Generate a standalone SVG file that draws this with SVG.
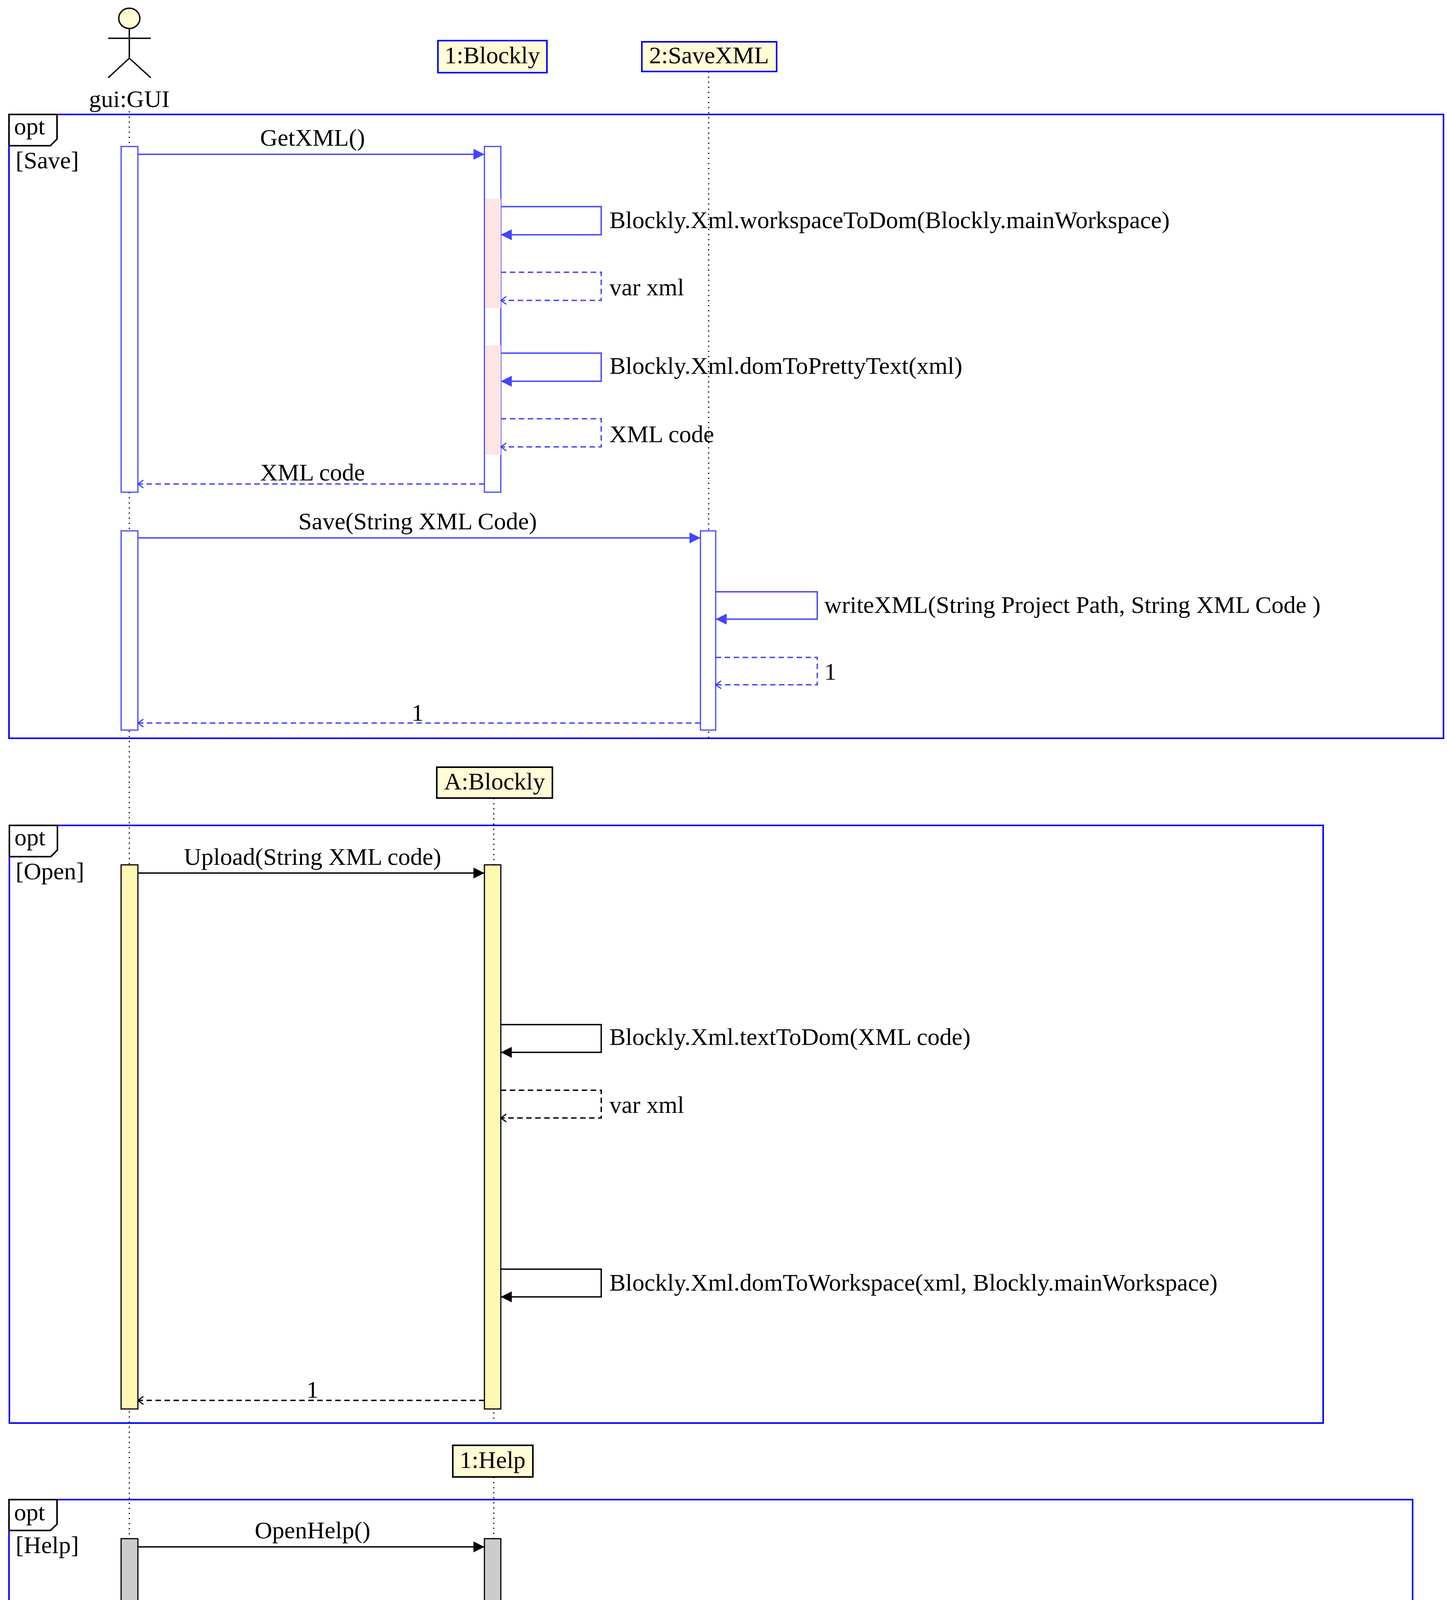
<svg xmlns="http://www.w3.org/2000/svg" width="3704" height="4773" viewBox="0 0 3704 4773">
<style>
text{font-family:"Liberation Serif",serif;font-size:62px;fill:#000}
.frame{fill:none;stroke:#0000ff;stroke-width:4}
.tag{fill:#fff;stroke:#000;stroke-width:4}
.life{stroke:#000;stroke-width:3;stroke-dasharray:3 10}
.obj{fill:#fffcd6;stroke-width:4}
.b{stroke:#4444ff;fill:none;stroke-width:3.5}
.k{stroke:#000;fill:none;stroke-width:3.5}
.d{stroke-dasharray:14 9}
</style>
<defs>
<marker id="fk" markerWidth="28" markerHeight="28" refX="28" refY="14" orient="auto" markerUnits="userSpaceOnUse"><path d="M0,0L28,14L0,28z" fill="#000"/></marker>
<marker id="fb2" markerWidth="28" markerHeight="28" refX="28" refY="14" orient="auto" markerUnits="userSpaceOnUse"><path d="M0,0L28,14L0,28z" fill="#4444ff"/></marker>
<marker id="ob" markerWidth="20" markerHeight="24" refX="18" refY="12" orient="auto" markerUnits="userSpaceOnUse"><path d="M4,2L18,12L4,22" fill="none" stroke="#4444ff" stroke-width="3"/></marker>
<marker id="ok" markerWidth="20" markerHeight="24" refX="18" refY="12" orient="auto" markerUnits="userSpaceOnUse"><path d="M4,2L18,12L4,22" fill="none" stroke="#000" stroke-width="3"/></marker>
</defs>
<rect width="3704" height="4773" fill="#fff"/>

<g id="lifelines">
<line class="life" x1="331" y1="285" x2="331" y2="4725"/>
<line class="life" x1="1814" y1="183" x2="1814" y2="1890"/>
<line class="life" x1="1264" y1="2043" x2="1264" y2="3634"/>
<line class="life" x1="1264" y1="3781" x2="1264" y2="4725"/>
</g>

<g id="actor-gui">
<ellipse cx="331" cy="47" rx="27" ry="26" fill="#fffcd6" stroke="#000" stroke-width="3.5"/>
<path d="M331,73V149M277,98H386M277,199L331,149L386,199" fill="none" stroke="#000" stroke-width="3.5"/>
<text x="331" y="274" text-anchor="middle">gui:GUI</text>
</g>
<g id="obj-blockly1"><rect class="obj" x="1121" y="104" width="279" height="82" stroke="#0000ff"/><text x="1260" y="162" text-anchor="middle">1:Blockly</text></g>
<g id="obj-savexml"><rect class="obj" x="1643" y="107" width="345" height="76" stroke="#0000ff"/><text x="1815" y="162" text-anchor="middle">2:SaveXML</text></g>
<g id="obj-blocklyA"><rect class="obj" x="1118" y="1964" width="296" height="79" stroke="#000"/><text x="1266" y="2021" text-anchor="middle">A:Blockly</text></g>
<g id="obj-help"><rect class="obj" x="1159" y="3700" width="205" height="81" stroke="#000"/><text x="1261" y="3758" text-anchor="middle">1:Help</text></g>

<g id="frame-save">
<rect class="frame" x="23" y="293" width="3672" height="1597"/>
<path class="tag" d="M23,293H146V356L129,373H23Z"/>
<text x="36" y="344">opt</text><text x="40" y="431">[Save]</text>
</g>
<g id="frame-open">
<rect class="frame" x="24" y="2113" width="3363" height="1530"/>
<path class="tag" d="M24,2113H147V2176L130,2193H24Z"/>
<text x="37" y="2164">opt</text><text x="40" y="2251">[Open]</text>
</g>
<g id="frame-help">
<rect class="frame" x="23" y="3839" width="3593" height="901"/>
<path class="tag" d="M23,3839H146V3902L129,3918H23Z"/>
<text x="36" y="3892">opt</text><text x="40" y="3976">[Help]</text>
</g>

<g id="activations">
<rect x="310" y="375" width="43" height="885" fill="#fff" stroke="#4444ff" stroke-width="3"/>
<rect x="1240" y="375" width="42" height="885" fill="#fff" stroke="#4444ff" stroke-width="3"/>
<rect x="1243" y="509" width="39" height="280" fill="#ffe4e6"/>
<rect x="1243" y="884" width="39" height="280" fill="#ffe4e6"/>
<rect x="310" y="1359" width="43" height="510" fill="#fff" stroke="#4444ff" stroke-width="3"/>
<rect x="1793" y="1359" width="39" height="510" fill="#fff" stroke="#4444ff" stroke-width="3"/>
<rect x="310" y="2214" width="43" height="1393" fill="#fff8b4" stroke="#000" stroke-width="3"/>
<rect x="1240" y="2214" width="42" height="1393" fill="#fff8b4" stroke="#000" stroke-width="3"/>
<rect x="310" y="3939" width="43" height="764" fill="#cccccc" stroke="#000" stroke-width="3"/>
<rect x="1240" y="3939" width="42" height="764" fill="#cccccc" stroke="#000" stroke-width="3"/>
</g>

<g id="connectors">
<line class="b" x1="353" y1="395" x2="1240" y2="395" marker-end="url(#fb2)"/>
<polyline class="b" points="1282,529 1539,529 1539,601 1282,601" marker-end="url(#fb2)"/>
<polyline class="b d" points="1282,697 1539,697 1539,769 1282,769" marker-end="url(#ob)"/>
<polyline class="b" points="1282,904 1539,904 1539,976 1282,976" marker-end="url(#fb2)"/>
<polyline class="b d" points="1282,1072 1539,1072 1539,1144 1282,1144" marker-end="url(#ob)"/>
<line class="b d" x1="1240" y1="1239" x2="353" y2="1239" marker-end="url(#ob)"/>
<line class="b" x1="353" y1="1377" x2="1793" y2="1377" marker-end="url(#fb2)"/>
<polyline class="b" points="1832,1515 2092,1515 2092,1585 1832,1585" marker-end="url(#fb2)"/>
<polyline class="b d" points="1832,1683 2092,1683 2092,1753 1832,1753" marker-end="url(#ob)"/>
<line class="b d" x1="1793" y1="1851" x2="353" y2="1851" marker-end="url(#ob)"/>
<line class="k" x1="353" y1="2235" x2="1240" y2="2235" marker-end="url(#fk)"/>
<polyline class="k" points="1282,2623 1539,2623 1539,2694 1282,2694" marker-end="url(#fk)"/>
<polyline class="k d" points="1282,2791 1539,2791 1539,2862 1282,2862" marker-end="url(#ok)"/>
<polyline class="k" points="1282,3249 1539,3249 1539,3320 1282,3320" marker-end="url(#fk)"/>
<line class="k d" x1="1240" y1="3585" x2="353" y2="3585" marker-end="url(#ok)"/>
<line class="k" x1="353" y1="3960" x2="1240" y2="3960" marker-end="url(#fk)"/>
<polyline class="k" points="1282,4344 1539,4344 1539,4416 1282,4416" marker-end="url(#fk)"/>
<line class="k d" x1="1240" y1="4682" x2="353" y2="4682" marker-end="url(#ok)"/>
</g>

<g id="labels">
<text x="800" y="373" text-anchor="middle">GetXML()</text>
<text x="1560" y="584">Blockly.Xml.workspaceToDom(Blockly.mainWorkspace)</text>
<text x="1560" y="756">var xml</text>
<text x="1560" y="957">Blockly.Xml.domToPrettyText(xml)</text>
<text x="1560" y="1132">XML code</text>
<text x="800" y="1230" text-anchor="middle">XML code</text>
<text x="1069" y="1355" text-anchor="middle">Save(String XML Code)</text>
<text x="2110" y="1569">writeXML(String Project Path, String XML Code )</text>
<text x="2110" y="1740">1</text>
<text x="1069" y="1845" text-anchor="middle">1</text>
<text x="800" y="2214" text-anchor="middle">Upload(String XML code)</text>
<text x="1560" y="2675">Blockly.Xml.textToDom(XML code)</text>
<text x="1560" y="2849">var xml</text>
<text x="1560" y="3304">Blockly.Xml.domToWorkspace(xml, Blockly.mainWorkspace)</text>
<text x="800" y="3578" text-anchor="middle">1</text>
<text x="800" y="3938" text-anchor="middle">OpenHelp()</text>
<text x="1560" y="4410">Desktop.getDesktop().browse(new URI(String URL Xerte resources))</text>
<text x="800" y="4673" text-anchor="middle">1</text>
</g>
</svg>
